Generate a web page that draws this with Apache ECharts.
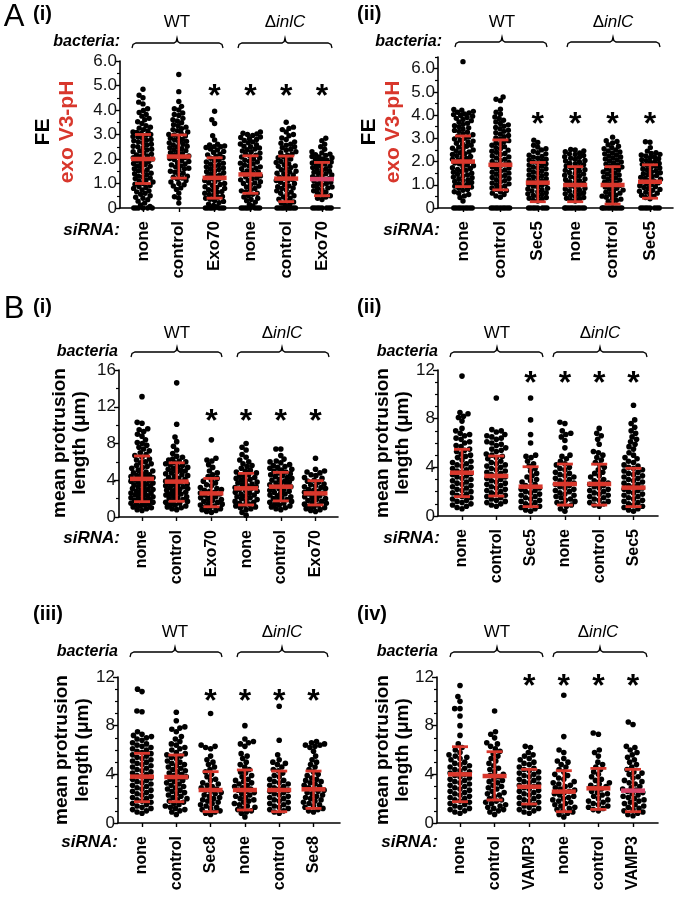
<!DOCTYPE html>
<html><head><meta charset="utf-8">
<script src="https://cdn.jsdelivr.net/npm/echarts@6/dist/echarts.min.js"></script>
<style>html,body{margin:0;padding:0;background:#fff}#c{width:677px;height:898px}</style>
</head><body><div id="c"></div>
<script>
// ---------------- DATA ----------------
const catsA1 = ['none','control','Exo70','none','control','Exo70'];
const catsA2 = ['none','control','Sec5','none','control','Sec5'];
const catsB1 = ['none','control','Exo70','none','control','Exo70'];
const catsB2 = ['none','control','Sec5','none','control','Sec5'];
const catsB3 = ['none','control','Sec8','none','control','Sec8'];
const catsB4 = ['none','control','VAMP3','none','control','VAMP3'];

const ticksA1 = [0,1,2,3,4,5,6];
const ticksA2 = [0,1,2,3,4,5,6];
const ticksB1 = [0,4,8,12,16];
const ticksB = [0,4,8,12];

// A(i) exo V3-pH FE
const a1_none_wt = [4.85,4.6,4.5,4.32,4.25,4.05,3.98,3.9,3.82,3.75,3.66,3.6,3.52,3.45,3.36,3.3,3.26,3.2,3.14,3.1,3.08,3.04,3.0,2.97,2.92,2.9,2.86,2.8,2.77,2.74,2.7,2.66,2.6,2.57,2.52,2.5,2.46,2.4,2.37,2.33,2.3,2.24,2.2,2.17,2.12,2.1,2.05,2.0,1.98,1.94,1.9,1.85,1.82,1.78,1.72,1.7,1.66,1.6,1.56,1.52,1.48,1.42,1.4,1.36,1.3,1.27,1.22,1.2,1.14,1.1,1.06,1.0,0.97,0.92,0.88,0.84,0.8,0.74,0.7,0.66,0.6,0.56,0.5,0.44,0.4,0.34,0.28,0.2,0.12,0.06,0,0,0,0,0,0];
const a1_ctrl_wt = [5.45,4.75,4.35,4.15,4.05,4.0,3.88,3.82,3.78,3.66,3.6,3.55,3.48,3.4,3.36,3.3,3.24,3.2,3.16,3.1,3.05,3.0,2.98,2.94,2.9,2.85,2.8,2.78,2.72,2.7,2.66,2.6,2.57,2.52,2.5,2.46,2.42,2.38,2.34,2.3,2.26,2.22,2.18,2.12,2.1,2.06,2.02,1.98,1.94,1.9,1.85,1.8,1.76,1.72,1.68,1.62,1.6,1.55,1.5,1.46,1.42,1.36,1.3,1.26,1.22,1.18,1.12,1.06,1.0,0.95,0.9,0.82,0.76,0.6,0.46,0.4,0.2];
const a1_exo_wt = [3.95,3.6,3.45,2.95,2.78,2.6,2.57,2.53,2.5,2.5,2.47,2.41,2.37,2.31,2.27,2.2,2.17,2.11,2.06,2.03,1.96,1.93,1.88,1.83,1.8,1.77,1.71,1.68,1.63,1.6,1.57,1.51,1.48,1.44,1.4,1.35,1.32,1.28,1.23,1.2,1.17,1.12,1.08,1.03,1.0,0.96,0.92,0.87,0.84,0.8,0.75,0.72,0.67,0.64,0.6,0.55,0.52,0.47,0.44,0.4,0.36,0.31,0.27,0.22,0.16,0.1,0.05,0,0,0,0,0,0,0,0];
const a1_none_d = [3.1,3.05,3.02,3.0,2.96,2.9,2.88,2.83,2.8,2.76,2.7,2.66,2.61,2.58,2.52,2.5,2.45,2.41,2.38,2.33,2.3,2.24,2.2,2.16,2.12,2.08,2.04,2.0,1.95,1.91,1.88,1.83,1.8,1.75,1.71,1.68,1.62,1.6,1.55,1.51,1.47,1.42,1.4,1.36,1.31,1.27,1.22,1.2,1.15,1.11,1.07,1.02,1.0,0.95,0.9,0.86,0.8,0.76,0.7,0.66,0.6,0.56,0.5,0.45,0.4,0.35,0.3,0.24,0.15,0.08,0,0,0,0,0,0,0,0];
const a1_ctrl_d = [3.5,3.3,3.25,3.2,3.1,3.0,2.95,2.86,2.8,2.7,2.64,2.6,2.56,2.5,2.46,2.4,2.36,2.3,2.26,2.2,2.16,2.1,2.05,2.0,1.96,1.9,1.86,1.8,1.77,1.72,1.7,1.65,1.6,1.56,1.5,1.47,1.42,1.4,1.35,1.3,1.26,1.2,1.17,1.12,1.1,1.05,1.0,0.96,0.9,0.87,0.82,0.8,0.75,0.7,0.65,0.6,0.56,0.5,0.45,0.4,0.36,0.3,0.25,0.2,0.15,0.1,0,0,0,0,0,0,0,0,0];
const a1_exo_d = [2.85,2.75,2.6,2.5,2.4,2.3,2.25,2.2,2.18,2.15,2.1,2.08,2.05,2.0,1.98,1.95,1.9,1.88,1.84,1.8,1.76,1.72,1.7,1.65,1.6,1.58,1.54,1.5,1.46,1.42,1.4,1.35,1.3,1.28,1.24,1.2,1.16,1.12,1.1,1.05,1.0,0.98,0.94,0.9,0.86,0.82,0.8,0.75,0.7,0.65,0.6,0.55,0.5,0.45,0.4,0.35,0,0,0,0,0,0,0,0];
const a1Means = [2.0,2.1,1.23,1.37,1.2,1.18];
const a1Lo = [1.0,1.22,0.4,0.6,0.26,0.5];
const a1Hi = [3.0,2.98,2.05,2.13,2.12,1.86];
const a1Star = [null,null,4.8,4.8,4.8,4.8];

// A(ii)
const a2_none_wt = [6.3,4.24,4.21,4.16,4.12,4.09,4.05,4.02,3.98,3.95,3.9,3.86,3.81,3.76,3.7,3.65,3.6,3.54,3.5,3.45,3.4,3.34,3.3,3.26,3.2,3.15,3.1,3.06,3.0,2.97,2.92,2.88,2.84,2.79,2.75,2.7,2.66,2.62,2.57,2.54,2.5,2.46,2.41,2.38,2.34,2.3,2.25,2.22,2.18,2.13,2.1,2.06,2.01,1.98,1.94,1.9,1.85,1.82,1.78,1.73,1.7,1.66,1.62,1.57,1.54,1.5,1.45,1.42,1.38,1.33,1.3,1.26,1.21,1.18,1.14,1.1,1.05,1.02,0.97,0.94,0.9,0.85,0.8,0.76,0.7,0.64,0.58,0.52,0.45,0.3,0,0,0,0,0,0,0,0,0];
const a2_ctrl_wt = [4.78,4.68,4.62,4.25,4.12,4.05,3.92,3.85,3.78,3.7,3.64,3.58,3.52,3.47,3.41,3.35,3.3,3.24,3.18,3.12,3.07,3.02,2.96,2.9,2.86,2.8,2.75,2.7,2.64,2.6,2.55,2.49,2.44,2.4,2.35,2.3,2.24,2.2,2.15,2.1,2.05,2.0,1.96,1.9,1.86,1.82,1.77,1.72,1.68,1.63,1.58,1.54,1.5,1.45,1.4,1.36,1.31,1.27,1.22,1.18,1.13,1.08,1.04,1.0,0.95,0.9,0.86,0.8,0.75,0.7,0.64,0.58,0.52,0.46,0,0,0,0,0,0,0,0,0];
const a2_sec5_wt = [2.92,2.82,2.7,2.62,2.55,2.5,2.44,2.38,2.33,2.27,2.22,2.19,2.14,2.1,2.07,2.02,1.98,1.93,1.9,1.85,1.81,1.76,1.72,1.69,1.64,1.6,1.55,1.51,1.46,1.42,1.39,1.34,1.3,1.26,1.21,1.18,1.14,1.1,1.06,1.01,0.98,0.94,0.9,0.85,0.82,0.78,0.73,0.7,0.66,0.61,0.58,0.54,0.5,0.45,0.42,0.38,0.33,0.3,0,0,0,0,0,0,0,0];
const a2_none_d = [2.52,2.5,2.46,2.42,2.37,2.33,2.3,2.26,2.21,2.18,2.14,2.1,2.05,2.02,1.98,1.93,1.9,1.86,1.81,1.78,1.74,1.7,1.65,1.62,1.58,1.53,1.5,1.46,1.41,1.38,1.34,1.3,1.25,1.22,1.18,1.13,1.1,1.06,1.01,0.98,0.94,0.9,0.85,0.82,0.78,0.73,0.7,0.66,0.61,0.58,0.54,0.5,0.45,0.42,0.38,0.33,0.3,0,0,0,0,0,0,0,0,0,0];
const a2_ctrl_d = [3.05,2.9,2.86,2.8,2.72,2.66,2.6,2.55,2.5,2.46,2.41,2.37,2.33,2.28,2.24,2.2,2.15,2.11,2.07,2.02,1.98,1.94,1.89,1.85,1.81,1.76,1.72,1.68,1.63,1.59,1.55,1.5,1.46,1.42,1.37,1.33,1.29,1.24,1.2,1.16,1.11,1.07,1.03,0.98,0.94,0.9,0.85,0.81,0.77,0.72,0.68,0.64,0.59,0.55,0.51,0.46,0.42,0.38,0.33,0.28,0.22,0,0,0,0,0,0,0,0,0,0];
const a2_sec5_d = [2.85,2.83,2.6,2.45,2.38,2.35,2.31,2.28,2.24,2.2,2.16,2.12,2.08,2.04,2.0,1.96,1.92,1.88,1.84,1.8,1.76,1.72,1.68,1.64,1.6,1.56,1.52,1.48,1.44,1.4,1.36,1.32,1.28,1.24,1.2,1.16,1.12,1.08,1.04,1.0,0.96,0.92,0.88,0.84,0.8,0.76,0.72,0.68,0.64,0.6,0.55,0.5,0.45,0.4,0,0,0,0,0,0,0,0];
const a2Means = [2.0,1.86,1.09,0.99,0.99,1.13];
const a2Lo = [0.92,0.78,0.27,0.27,0.17,0.42];
const a2Hi = [3.1,2.93,1.96,1.78,1.78,1.86];
const a2Star = [null,null,3.87,3.87,3.87,3.87];

// B(i)
const b1_none_wt = [13.1,10.3,10.2,9.6,9.5,9.3,9.0,8.8,8.4,8.1,8.0,7.8,7.6,7.4,7.2,7.0,6.8,6.7,6.5,6.3,6.2,6.0,5.9,5.8,5.6,5.5,5.4,5.3,5.1,5.0,4.9,4.8,4.7,4.6,4.5,4.4,4.4,4.3,4.2,4.1,4.0,3.9,3.9,3.8,3.7,3.6,3.5,3.5,3.4,3.3,3.2,3.1,3.0,3.0,2.9,2.8,2.7,2.6,2.6,2.5,2.4,2.3,2.2,2.2,2.1,2.0,1.9,1.8,1.8,1.7,1.6,1.5,1.4,1.4,1.3,1.2,1.1,1.0,0.9,0.8,0.7];
const b1_ctrl_wt = [14.6,10.1,8.7,8.2,7.7,7.3,6.9,6.6,6.5,6.3,6.2,6.1,6.0,5.9,5.8,5.7,5.6,5.5,5.4,5.3,5.2,5.1,5.0,4.9,4.8,4.7,4.6,4.5,4.4,4.3,4.2,4.1,4.0,3.9,3.8,3.8,3.7,3.6,3.5,3.4,3.4,3.3,3.2,3.1,3.0,3.0,2.9,2.8,2.7,2.6,2.5,2.5,2.4,2.3,2.2,2.1,2.0,1.9,1.8,1.7,1.6,1.5,1.4,1.3,1.2,1.1,1.0,0.9,0.8];
const b1_exo_wt = [8.4,6.4,6.2,6.1,5.7,5.4,5.0,4.8,4.6,4.4,4.2,4.0,3.9,3.7,3.5,3.4,3.2,3.1,3.0,2.9,2.8,2.7,2.6,2.5,2.4,2.3,2.2,2.1,2.0,1.9,1.8,1.7,1.6,1.5,1.4,1.3,1.2,1.1,1.0,0.9,0.8,0.7,0.6,0.5];
const b1_none_d = [8.0,7.6,7.3,6.8,6.5,6.2,6.0,5.8,5.6,5.5,5.3,5.1,5.0,4.9,4.8,4.6,4.5,4.4,4.3,4.2,4.1,4.0,3.9,3.8,3.7,3.6,3.5,3.4,3.3,3.2,3.1,3.0,2.9,2.8,2.7,2.6,2.5,2.4,2.3,2.2,2.1,2.0,1.9,1.8,1.7,1.6,1.5,1.4,1.3,1.2,1.1,1.0,0.9,0.8,0.5,0.2];
const b1_ctrl_d = [7.4,7.4,6.7,6.3,6.1,6.0,5.9,5.7,5.6,5.5,5.4,5.3,5.2,5.1,5.0,4.9,4.8,4.7,4.6,4.5,4.4,4.3,4.2,4.1,4.0,3.9,3.8,3.7,3.6,3.5,3.4,3.3,3.2,3.1,3.0,2.9,2.8,2.7,2.6,2.5,2.4,2.3,2.2,2.1,2.0,1.9,1.8,1.7,1.6,1.5,1.4,1.3,1.2,1.1,1.0,0.9,0.8];
const b1_exo_d = [6.4,5.2,5.0,4.9,4.8,4.6,4.5,4.3,4.2,4.0,3.9,3.8,3.6,3.5,3.4,3.3,3.2,3.1,3.0,2.9,2.8,2.7,2.6,2.5,2.4,2.3,2.2,2.1,2.0,1.9,1.8,1.7,1.6,1.5,1.4,1.3,1.2,1.1,1.0,0.9,0.8,0.7,0.6];
const b1Means = [4.15,3.85,2.57,3.12,3.3,2.57];
const b1Lo = [1.67,1.71,1.12,1.31,1.75,1.31];
const b1Hi = [6.64,5.9,4.2,4.75,4.86,3.95];
const b1Star = [null,null,11.1,11.1,11.1,11.1];

// B(ii)
const b2_none_wt = [11.5,8.5,8.4,8.2,8.1,7.8,7.2,7.0,6.8,6.7,6.6,6.4,6.3,6.1,6.0,5.8,5.7,5.5,5.4,5.3,5.1,5.0,4.9,4.8,4.6,4.5,4.4,4.3,4.2,4.1,4.0,3.9,3.8,3.7,3.6,3.5,3.4,3.3,3.2,3.1,3.0,2.9,2.8,2.7,2.6,2.5,2.4,2.3,2.2,2.1,2.0,1.9,1.8,1.7,1.6,1.5,1.4,1.3,1.2,1.1,1.0,0.9,0.8,0.7,0.6];
const b2_ctrl_wt = [9.7,7.1,7.0,6.9,6.7,6.6,6.5,6.4,6.3,6.1,6.0,5.9,5.8,5.6,5.5,5.4,5.3,5.1,5.0,4.9,4.8,4.7,4.5,4.4,4.3,4.2,4.1,4.0,3.9,3.8,3.7,3.6,3.5,3.4,3.3,3.2,3.1,3.0,2.9,2.8,2.7,2.6,2.5,2.4,2.3,2.2,2.1,2.0,1.9,1.8,1.7,1.6,1.5,1.4,1.3,1.2,1.1,1.0,0.9,0.8];
const b2_sec5_wt = [9.7,7.9,6.7,6.0,5.0,4.9,4.8,4.5,4.3,4.1,3.9,3.7,3.5,3.3,3.2,3.0,2.9,2.8,2.6,2.5,2.4,2.3,2.2,2.1,2.0,1.9,1.8,1.7,1.6,1.5,1.4,1.3,1.2,1.1,1.0,0.9,0.8,0.7,0.6,0.5,0.4];
const b2_none_d = [7.7,7.6,7.0,6.8,6.7,6.5,6.2,5.6,5.0,4.9,4.7,4.5,4.3,4.2,4.0,3.9,3.8,3.6,3.5,3.4,3.3,3.2,3.1,3.0,2.9,2.8,2.7,2.6,2.5,2.4,2.3,2.2,2.1,2.0,1.9,1.8,1.7,1.6,1.5,1.4,1.3,1.2,1.1,1.0,0.9,0.8,0.6,0.4];
const b2_ctrl_d = [7.2,6.8,6.6,6.3,5.9,5.3,5.2,5.0,4.8,4.6,4.4,4.2,4.0,3.8,3.6,3.5,3.3,3.2,3.0,2.9,2.8,2.7,2.6,2.5,2.4,2.3,2.2,2.1,2.0,1.9,1.8,1.7,1.6,1.5,1.4,1.3,1.2,1.1,1.0,0.9,0.8];
const b2_sec5_d = [9.1,7.9,7.6,7.3,7.0,6.8,6.5,6.3,6.1,5.9,5.7,5.5,5.2,5.0,4.8,4.7,4.5,4.4,4.2,4.1,4.0,3.9,3.8,3.7,3.6,3.5,3.4,3.3,3.2,3.1,3.0,2.9,2.8,2.7,2.6,2.5,2.4,2.3,2.2,2.1,2.0,1.9,1.8,1.7,1.6,1.5,1.4,1.3,1.2,1.1,1.0,0.9,0.8,0.7,0.6,0.5,0.4];
const b2Means = [3.56,3.29,2.41,2.63,2.63,2.33];
const b2Lo = [1.59,1.64,0.77,0.9,0.9,0.77];
const b2Hi = [5.48,4.93,4.05,4.27,4.26,3.92];
const b2Star = [null,null,11.4,11.4,11.4,11.4];

// B(iii)
const b3_none_wt = [11.0,10.8,9.2,9.15,7.5,7.3,7.2,7.1,7.0,6.9,6.8,6.6,6.5,6.4,6.3,6.2,6.1,6.0,5.9,5.8,5.7,5.6,5.5,5.4,5.3,5.2,5.1,5.0,4.9,4.8,4.7,4.6,4.5,4.4,4.3,4.2,4.1,4.0,3.9,3.8,3.7,3.6,3.5,3.4,3.3,3.2,3.1,3.0,2.9,2.8,2.7,2.6,2.5,2.4,2.3,2.2,2.1,2.0,1.9,1.8,1.7,1.6,1.5,1.4,1.3,1.2,1.1,1.0,0.9,0.8];
const b3_ctrl_wt = [9.1,8.4,7.9,7.8,7.7,7.5,7.1,6.9,6.7,6.5,6.4,6.2,6.1,6.0,5.8,5.7,5.6,5.5,5.4,5.3,5.1,5.0,4.9,4.8,4.7,4.6,4.5,4.4,4.3,4.2,4.1,4.0,3.9,3.8,3.7,3.6,3.5,3.4,3.3,3.2,3.1,3.0,2.9,2.8,2.7,2.6,2.5,2.4,2.3,2.2,2.1,2.0,1.9,1.8,1.7,1.6,1.5,1.4,1.3,1.2,1.1,1.0,0.9,0.7];
const b3_sec8_wt = [9.0,6.4,6.3,6.2,6.1,5.5,5.2,5.0,4.8,4.6,4.4,4.2,4.0,3.8,3.6,3.5,3.3,3.2,3.1,3.0,2.9,2.8,2.7,2.6,2.5,2.4,2.3,2.2,2.1,2.0,1.9,1.8,1.7,1.6,1.5,1.4,1.3,1.2,1.1,1.0,0.9,0.8,0.7];
const b3_none_d = [8.0,6.9,6.7,6.6,6.5,6.3,5.7,5.5,5.3,5.0,4.8,4.6,4.4,4.2,4.1,3.9,3.8,3.6,3.5,3.4,3.3,3.2,3.1,3.0,2.9,2.8,2.7,2.6,2.5,2.4,2.3,2.2,2.1,2.0,1.9,1.8,1.7,1.6,1.5,1.4,1.3,1.2,1.1,1.0,0.9,0.8,0.5];
const b3_ctrl_d = [9.6,6.8,5.6,5.2,5.0,4.9,4.8,4.6,4.4,4.3,4.1,3.9,3.8,3.6,3.5,3.4,3.3,3.2,3.1,3.0,2.9,2.8,2.7,2.6,2.5,2.4,2.3,2.2,2.1,2.0,1.9,1.8,1.7,1.6,1.5,1.4,1.3,1.2,1.1,1.0,0.9,0.8];
const b3_sec8_d = [6.7,6.6,6.5,6.4,6.4,6.3,6.2,5.9,5.5,5.2,5.0,4.8,4.6,4.4,4.2,4.0,3.9,3.7,3.6,3.5,3.4,3.3,3.2,3.1,3.0,2.9,2.8,2.7,2.6,2.5,2.4,2.3,2.2,2.1,2.0,1.9,1.8,1.7,1.6,1.5,1.4,1.3,1.2,1.1,1.0,0.9];
const b3Means = [3.81,3.78,2.71,2.71,2.71,2.77];
const b3Lo = [1.75,1.75,0.93,1.07,0.93,1.2];
const b3Hi = [5.73,5.59,4.22,4.36,4.27,4.27];
const b3Star = [null,null,10.5,10.5,10.5,10.5];

// B(iv)
const b4_none_wt = [11.3,10.4,10.0,9.4,9.4,8.8,8.0,7.2,6.5,6.2,6.0,5.8,5.6,5.5,5.4,5.3,5.2,5.0,4.9,4.8,4.7,4.6,4.5,4.4,4.3,4.2,4.1,4.0,3.9,3.8,3.7,3.6,3.5,3.4,3.3,3.2,3.1,3.0,2.9,2.8,2.7,2.6,2.5,2.4,2.3,2.2,2.1,2.0,1.9,1.8,1.7,1.6,1.5,1.4,1.3,1.2,1.1,1.0,0.9,0.8];
const b4_ctrl_wt = [9.2,7.5,7.3,7.0,6.6,6.5,6.3,6.1,5.9,5.7,5.5,5.3,5.1,4.9,4.7,4.5,4.4,4.2,4.0,3.9,3.8,3.6,3.5,3.4,3.3,3.1,3.0,2.9,2.8,2.6,2.5,2.4,2.3,2.2,2.0,1.9,1.8,1.7,1.6,1.5,1.4,1.3,1.2,1.1,1.0,0.9,0.7];
const b4_vamp_wt = [6.3,6.2,5.8,5.6,5.5,5.3,5.2,5.0,4.9,4.8,4.6,4.5,4.4,4.3,4.2,4.1,4.0,3.9,3.8,3.7,3.6,3.5,3.4,3.3,3.2,3.1,3.0,2.9,2.8,2.7,2.6,2.5,2.4,2.3,2.2,2.1,2.0,1.9,1.8,1.7,1.6,1.5,1.4,1.3,1.2,1.1,1.0,0.9,0.8];
const b4_none_d = [10.5,7.1,6.0,5.8,5.3,5.1,5.0,4.8,4.6,4.4,4.2,4.0,3.9,3.7,3.6,3.4,3.3,3.2,3.1,3.0,2.9,2.8,2.7,2.6,2.5,2.4,2.3,2.2,2.1,2.0,1.9,1.8,1.7,1.6,1.5,1.4,1.3,1.2,1.1,1.0,0.9,0.8,0.7,0.5];
const b4_ctrl_d = [7.4,7.3,6.0,5.8,5.5,5.0,4.8,4.6,4.4,4.2,4.0,3.8,3.6,3.5,3.3,3.2,3.1,3.0,2.9,2.8,2.6,2.5,2.4,2.3,2.2,2.0,1.9,1.8,1.7,1.6,1.5,1.4,1.3,1.2,1.1,1.0];
const b4_vamp_d = [8.3,8.1,6.3,6.2,6.0,5.8,5.6,5.4,5.2,5.0,4.8,4.6,4.4,4.2,4.1,4.0,3.8,3.7,3.5,3.4,3.3,3.2,3.0,2.9,2.8,2.7,2.6,2.5,2.4,2.3,2.2,2.1,2.0,1.9,1.8,1.7,1.6,1.5,1.4,1.3,1.2,1.1,1.0,0.9,0.8,0.7,0.6];
const b4Means = [4.0,3.86,2.98,2.58,2.85,2.66];
const b4Lo = [1.75,1.89,1.56,0.93,1.12,0.93];
const b4Hi = [6.27,5.86,4.41,4.3,4.49,4.41];
const b4Star = [null,null,11.7,11.7,11.7,11.7];

// ---------------- LAYOUT / STYLE ----------------
const FONT = '"Liberation Sans", Arial, Helvetica, sans-serif';
const RED = '#d8372c';
const PINK = '#d9456a';

const panels = [
  {cats:catsA1, groups:[a1_none_wt,a1_ctrl_wt,a1_exo_wt,a1_none_d,a1_ctrl_d,a1_exo_d], means:a1Means, lo:a1Lo, hi:a1Hi, stars:a1Star,
   yMax:6, majors:ticksA1, minorStep:0.5, fmt:v=>v===0?'0':v.toFixed(1), meanColors:[RED,RED,RED,RED,RED,PINK],
   g:{axisX:120, top:61, bottom:208, c0:143, sp:35.8, end:340}, dot:{size:5.4, d:4.6, hw:10}, lab:17},
  {cats:catsA2, groups:[a2_none_wt,a2_ctrl_wt,a2_sec5_wt,a2_none_d,a2_ctrl_d,a2_sec5_d], means:a2Means, lo:a2Lo, hi:a2Hi, stars:a2Star,
   yMax:6.5, majors:ticksA2, minorStep:0.5, fmt:v=>v===0?'0':v.toFixed(1), meanColors:[RED,RED,RED,RED,RED,RED],
   g:{axisX:438, top:57, bottom:208, c0:463, sp:37.4, end:673}, dot:{size:5.4, d:4.6, hw:10.5}, lab:17},
  {cats:catsB1, groups:[b1_none_wt,b1_ctrl_wt,b1_exo_wt,b1_none_d,b1_ctrl_d,b1_exo_d], means:b1Means, lo:b1Lo, hi:b1Hi, stars:b1Star,
   yMax:16, majors:ticksB1, minorStep:2, fmt:v=>String(v), meanColors:[RED,RED,RED,RED,RED,RED],
   g:{axisX:119, top:370, bottom:517, c0:142, sp:34.7, end:338}, dot:{size:5.6, d:4.9, hw:11}, lab:16},
  {cats:catsB2, groups:[b2_none_wt,b2_ctrl_wt,b2_sec5_wt,b2_none_d,b2_ctrl_d,b2_sec5_d], means:b2Means, lo:b2Lo, hi:b2Hi, stars:b2Star,
   yMax:12, majors:ticksB, minorStep:1, fmt:v=>String(v), meanColors:[RED,RED,RED,RED,RED,RED],
   g:{axisX:438, top:370, bottom:516, c0:462, sp:34.3, end:658}, dot:{size:5.6, d:5.1, hw:11}, lab:16},
  {cats:catsB3, groups:[b3_none_wt,b3_ctrl_wt,b3_sec8_wt,b3_none_d,b3_ctrl_d,b3_sec8_d], means:b3Means, lo:b3Lo, hi:b3Hi, stars:b3Star,
   yMax:12, majors:ticksB, minorStep:1, fmt:v=>String(v), meanColors:[RED,RED,RED,RED,RED,RED],
   g:{axisX:118, top:677, bottom:823, c0:142, sp:34.3, end:340}, dot:{size:5.6, d:5.1, hw:11}, lab:16},
  {cats:catsB4, groups:[b4_none_wt,b4_ctrl_wt,b4_vamp_wt,b4_none_d,b4_ctrl_d,b4_vamp_d], means:b4Means, lo:b4Lo, hi:b4Hi, stars:b4Star,
   yMax:12, majors:ticksB, minorStep:1, fmt:v=>String(v), meanColors:[RED,RED,RED,RED,RED,PINK],
   g:{axisX:437, top:677, bottom:823, c0:460, sp:34.6, end:658}, dot:{size:5.6, d:5.3, hw:11}, lab:16}
];

// beeswarm layout (deterministic, pixel based)
function swarm(values, idx, pxY, pxX, d, hw) {
  const pts = values.map(v => ({v, y: v * pxY})).sort((a, b) => a.y - b.y);
  const placed = [];
  const out = [];
  for (const p of pts) {
    const near = placed.filter(q => Math.abs(q.y - p.y) < d);
    const iv = near.map(q => { const dy = p.y - q.y; const dx = Math.sqrt(d * d - dy * dy); return [q.x - dx, q.x + dx]; });
    const cands = [0];
    iv.forEach(r => { cands.push(r[0], r[1]); });
    cands.sort((a, b) => Math.abs(a) - Math.abs(b));
    let chosen = null;
    for (const c of cands) {
      if (Math.abs(c) > hw + 1e-6) continue;
      if (!iv.some(r => c > r[0] + 1e-6 && c < r[1] - 1e-6)) { chosen = c; break; }
    }
    if (chosen === null) {
      let best = -1;
      for (let s = -hw; s <= hw + 1e-6; s += 0.5) {
        let m = Infinity;
        near.forEach(q => { const dd = Math.hypot(s - q.x, p.y - q.y); if (dd < m) m = dd; });
        if (m > best + 1e-6 || (Math.abs(m - best) < 1e-6 && Math.abs(s) < Math.abs(chosen))) { best = m; chosen = s; }
      }
    }
    p.x = chosen;
    placed.push(p);
    out.push([idx + chosen / pxX, p.v]);
  }
  return out;
}

const grids = [], xAxes = [], yAxes = [], series = [];
panels.forEach((P, i) => {
  const G = P.g;
  const h = G.bottom - G.top;
  grids.push({left: G.axisX, top: G.top, width: G.end - G.axisX, height: h, containLabel: false});
  const idxs = P.cats.map((_, k) => k);
  xAxes.push({
    type: 'value', gridIndex: i, min: -(G.c0 - G.axisX) / G.sp, max: (G.end - G.c0) / G.sp,
    axisLine: {onZero: false, lineStyle: {color: '#000', width: 1.6}},
    axisTick: {show: true, customValues: idxs, length: 4, lineStyle: {color: '#000', width: 1.4}},
    axisLabel: {show: true, customValues: idxs, rotate: 90, margin: 13, formatter: v => P.cats[Math.round(v)] || '',
      color: '#000', fontFamily: FONT, fontWeight: 'bold', fontSize: P.lab},
    splitLine: {show: false}
  });
  const minors = [];
  for (let v = 0; v <= P.yMax + 1e-9; v += P.minorStep) {
    const r = Math.round(v * 1000) / 1000;
    if (!P.majors.some(m => Math.abs(m - r) < 1e-9)) minors.push(r);
  }
  yAxes.push({
    type: 'value', gridIndex: i, min: 0, max: P.yMax, position: 'left',
    axisLine: {show: true, onZero: false, lineStyle: {color: '#000', width: 1.6}},
    axisTick: {show: true, customValues: P.majors, length: 5, lineStyle: {color: '#000', width: 1.4}},
    axisLabel: {show: true, customValues: P.majors, formatter: v => P.fmt(v), margin: 3, color: '#111', fontFamily: FONT, fontSize: 17},
    splitLine: {show: false}
  });
  yAxes.push({
    type: 'value', gridIndex: i, min: 0, max: P.yMax, position: 'left',
    axisLine: {show: false, onZero: false},
    axisTick: {show: true, customValues: minors, length: 3, lineStyle: {color: '#000', width: 1.2}},
    axisLabel: {show: false}, splitLine: {show: false}
  });
  const pxY = h / P.yMax;
  let dots = [];
  P.groups.forEach((vals, k) => { dots = dots.concat(swarm(vals, k, pxY, G.sp, P.dot.d, P.dot.hw)); });
  series.push({type: 'scatter', xAxisIndex: i, yAxisIndex: 2 * i, data: dots, symbol: 'circle', symbolSize: P.dot.size,
    itemStyle: {color: '#000', opacity: 1}, emphasis: {disabled: true}, clip: false, silent: true, z: 2});
  const bars = P.means.map((m, k) => [k, m, P.lo[k], P.hi[k], k]);
  series.push({type: 'custom', xAxisIndex: i, yAxisIndex: 2 * i, data: bars, clip: false, silent: true, z: 3,
    renderItem: (params, api) => {
      const x = api.value(0), m = api.value(1), lo = api.value(2), hi = api.value(3), k = api.value(4);
      const pm = api.coord([x, m]), pl = api.coord([x, lo]), ph = api.coord([x, hi]);
      const col = P.meanColors[k];
      return {type: 'group', children: [
        {type: 'line', shape: {x1: pm[0], y1: pl[1], x2: pm[0], y2: ph[1]}, style: {stroke: RED, lineWidth: 2.4}},
        {type: 'line', shape: {x1: pm[0] - 8, y1: pl[1], x2: pm[0] + 8, y2: pl[1]}, style: {stroke: RED, lineWidth: 2.8}},
        {type: 'line', shape: {x1: pm[0] - 8, y1: ph[1], x2: pm[0] + 8, y2: ph[1]}, style: {stroke: RED, lineWidth: 2.8}},
        {type: 'line', shape: {x1: pm[0] - 12, y1: pm[1], x2: pm[0] + 12, y2: pm[1]}, style: {stroke: col, lineWidth: 4.5}}
      ]};
    }});
  const st = [];
  P.stars.forEach((s, k) => { if (s !== null) st.push([k, s]); });
  series.push({type: 'custom', xAxisIndex: i, yAxisIndex: 2 * i, data: st, clip: false, silent: true, z: 4,
    renderItem: (params, api) => {
      const p = api.coord([api.value(0), api.value(1)]);
      return {type: 'text', x: p[0], y: p[1] + 7, style: {text: '*', fontFamily: FONT, fontWeight: 'bold', fontSize: 32,
        fill: '#000', align: 'center', verticalAlign: 'middle'}};
    }});
});

// ---------------- ANNOTATIONS (text, brackets) ----------------
function T(text, x, y, o) {
  o = o || {};
  return {type: 'text', x, y, rotation: o.rot || 0, silent: true, z: 10, style: {text, fontFamily: FONT,
    fontSize: o.size || 17, fontWeight: o.weight || 'normal', fontStyle: o.style || 'normal',
    fill: o.color || '#000', align: o.align || 'center', verticalAlign: 'middle'}};
}
function D(x, y) {
  return {type: 'text', x, y, silent: true, z: 10, style: {text: '{a|Δ}{b|inlC}', align: 'center', verticalAlign: 'middle',
    fontFamily: FONT, fontSize: 17, fill: '#000',
    rich: {a: {fontFamily: FONT, fontSize: 17, fontStyle: 'normal', fill: '#000'},
           b: {fontFamily: FONT, fontSize: 17, fontStyle: 'italic', fill: '#000'}}}};
}
function BR(x1, x2, xm, y) {
  return {type: 'polyline', silent: true, z: 10, shape: {points: [[x1, y + 5], [x1 + 1, y + 1.5], [x1 + 4, y], [xm - 3, y], [xm - 0.8, y - 1.5], [xm, y - 5],
    [xm + 0.8, y - 1.5], [xm + 3, y], [x2 - 4, y], [x2 - 1, y + 1.5], [x2, y + 5]]}, style: {stroke: '#000', lineWidth: 1.3, fill: null}};
}
const R = Math.PI / 2;
const headers = [
  // A (i)
  T('A', 14, 17, {size: 31}), T('(i)', 33, 14, {size: 20, weight: 'bold', align: 'left'}),
  T('WT', 177, 22), D(285, 22), T('bacteria:', 120, 42, {size: 16, weight: 'bold', style: 'italic', align: 'right'}),
  BR(132, 223, 177, 43), BR(238, 332, 285, 43),
  T('siRNA:', 120, 230, {size: 17, weight: 'bold', style: 'italic', align: 'right'}),
  T('FE', 43, 132, {size: 21, weight: 'bold', rot: R}), T('exo V3-pH', 67, 132, {size: 21, weight: 'bold', rot: R, color: RED}),
  // A (ii)
  T('(ii)', 357, 14, {size: 20, weight: 'bold', align: 'left'}),
  T('WT', 502, 22), D(613, 22), T('bacteria:', 442, 42, {size: 16, weight: 'bold', style: 'italic', align: 'right'}),
  BR(455, 547, 502, 42), BR(567, 660, 613, 42),
  T('siRNA:', 440, 230, {size: 17, weight: 'bold', style: 'italic', align: 'right'}),
  T('FE', 369, 132, {size: 21, weight: 'bold', rot: R}), T('exo V3-pH', 393, 132, {size: 21, weight: 'bold', rot: R, color: RED}),
  // B (i)
  T('B', 14, 309, {size: 31}), T('(i)', 33, 307, {size: 20, weight: 'bold', align: 'left'}),
  T('WT', 177, 333), D(282, 333), T('bacteria', 118, 352, {size: 16, weight: 'bold', style: 'italic', align: 'right'}),
  BR(131, 222, 177, 352), BR(237, 329, 282, 352),
  T('siRNA:', 120, 538, {size: 17, weight: 'bold', style: 'italic', align: 'right'}),
  T('mean protrusion', 60, 443, {size: 19, weight: 'bold', rot: R}), T('length (μm)', 80, 443, {size: 19, weight: 'bold', rot: R}),
  // B (ii)
  T('(ii)', 357, 307, {size: 20, weight: 'bold', align: 'left'}),
  T('WT', 497, 333), D(600, 333), T('bacteria', 438, 352, {size: 16, weight: 'bold', style: 'italic', align: 'right'}),
  BR(450, 543, 497, 352), BR(553, 647, 600, 352),
  T('siRNA:', 440, 538, {size: 17, weight: 'bold', style: 'italic', align: 'right'}),
  T('mean protrusion', 383, 443, {size: 19, weight: 'bold', rot: R}), T('length (μm)', 403, 443, {size: 19, weight: 'bold', rot: R}),
  // B (iii)
  T('(iii)', 33, 614, {size: 20, weight: 'bold', align: 'left'}),
  T('WT', 175, 632), D(282, 632), T('bacteria', 118, 652, {size: 16, weight: 'bold', style: 'italic', align: 'right'}),
  BR(130, 222, 175, 652), BR(237, 328, 282, 652),
  T('siRNA:', 118, 842, {size: 17, weight: 'bold', style: 'italic', align: 'right'}),
  T('mean protrusion', 62, 750, {size: 19, weight: 'bold', rot: R}), T('length (μm)', 83, 750, {size: 19, weight: 'bold', rot: R}),
  // B (iv)
  T('(iv)', 357, 614, {size: 20, weight: 'bold', align: 'left'}),
  T('WT', 497, 632), D(598, 632), T('bacteria', 438, 652, {size: 16, weight: 'bold', style: 'italic', align: 'right'}),
  BR(450, 543, 497, 652), BR(553, 647, 600, 652),
  T('siRNA:', 438, 842, {size: 17, weight: 'bold', style: 'italic', align: 'right'}),
  T('mean protrusion', 383, 750, {size: 19, weight: 'bold', rot: R}), T('length (μm)', 403, 750, {size: 19, weight: 'bold', rot: R})
];

const chart = echarts.init(document.getElementById('c'), null, {renderer: 'canvas'});
chart.setOption({
  animation: false, backgroundColor: '#fff',
  grid: grids, xAxis: xAxes, yAxis: yAxes, series: series, graphic: headers
});
</script></body></html>
